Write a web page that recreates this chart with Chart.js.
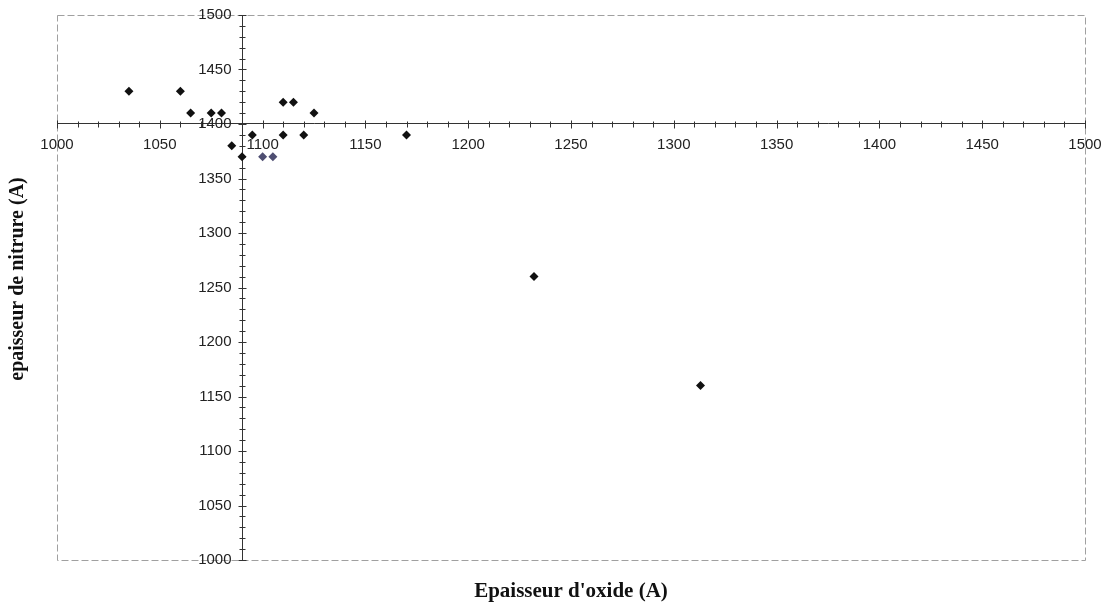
<!DOCTYPE html>
<html>
<head>
<meta charset="utf-8">
<script src="https://cdn.jsdelivr.net/npm/chart.js@4.4.1/dist/chart.umd.min.js"></script>
<style>
  html, body { margin: 0; padding: 0; background: #fff; }
  #wrap { width: 1107px; height: 608px; position: relative; }
</style>
</head>
<body>
<div id="wrap"><canvas id="scatter"></canvas></div>
<script>
// épaisseurs mesurées (A)
const oxide = [1035, 1060, 1065, 1075, 1080, 1085, 1090, 1095, 1110, 1110, 1115, 1120, 1125, 1170, 1232, 1313];
const nitrure = [1430, 1430, 1410, 1410, 1410, 1380, 1370, 1390, 1390, 1420, 1420, 1390, 1410, 1390, 1260, 1160];
const oxide2 = [1100, 1105];
const nitrure2 = [1370, 1370];

const xTicks = [1000, 1050, 1100, 1150, 1200, 1250, 1300, 1350, 1400, 1450, 1500];
const yTicks = [1000, 1050, 1100, 1150, 1200, 1250, 1300, 1350, 1400, 1450, 1500];

const xTitle = "Epaisseur d'oxide (A)";
const yTitle = "epaisseur de nitrure (A)";

const toPoints = (xs, ys) => xs.map((x, i) => ({ x, y: ys[i] }));

const tickFont = { family: "'Liberation Sans', Arial, sans-serif", size: 15 };
const tickFontCss = "15px 'Liberation Sans', Arial, sans-serif";

// cadre pointillé, graduations qui traversent les axes, libellés de l'axe vertical
const decorations = {
  id: "decorations",
  beforeDraw(chart) {
    const { ctx, chartArea: a } = chart;
    ctx.save();
    ctx.strokeStyle = "#a0a0a0";
    ctx.lineWidth = 1;
    ctx.setLineDash([7, 3]);
    ctx.strokeRect(a.left + 0.5, a.top + 0.5, a.right - a.left, a.bottom - a.top);
    ctx.restore();
  },
  beforeDatasetsDraw(chart) {
    const { ctx, scales } = chart;
    const xs = scales.x, ys = scales.y;
    const xLine = Math.round(ys.getPixelForValue(1400)) + 0.5;
    const yLine = Math.round(xs.getPixelForValue(1090)) + 0.5;
    ctx.save();
    ctx.strokeStyle = "#333";
    ctx.lineWidth = 1;
    for (let v = xs.min; v <= xs.max; v += 10) {
      const px = Math.round(xs.getPixelForValue(v)) + 0.5;
      const h = v % 50 === 0 ? 4 : 3;
      ctx.beginPath();
      ctx.moveTo(px, xLine - h);
      ctx.lineTo(px, xLine + h);
      ctx.stroke();
    }
    for (let v = ys.min; v <= ys.max; v += 10) {
      const py = Math.round(ys.getPixelForValue(v)) + 0.5;
      const w = v % 50 === 0 ? 4 : 3;
      ctx.beginPath();
      ctx.moveTo(yLine - w, py);
      ctx.lineTo(yLine + w, py);
      ctx.stroke();
    }
    // libellés de l'axe des nitrures, décalés à gauche de la ligne d'axe
    ctx.fillStyle = "#222";
    ctx.font = tickFontCss;
    ctx.textAlign = "right";
    ctx.textBaseline = "middle";
    ys.ticks.forEach((t) => {
      ctx.fillText(String(t.value), yLine - 11, ys.getPixelForValue(t.value));
    });
    ctx.restore();
  },
  afterDraw(chart) {
    const { ctx } = chart;
    ctx.save();
    ctx.fillStyle = "#111";
    ctx.textAlign = "center";
    ctx.textBaseline = "middle";
    ctx.font = "bold 21px 'Liberation Serif', 'Times New Roman', serif";
    ctx.fillText(xTitle, 571, 592);
    ctx.font = "bold 20px 'Liberation Serif', 'Times New Roman', serif";
    ctx.translate(18, 279);
    ctx.rotate(-Math.PI / 2);
    ctx.fillText(yTitle, 0, 0);
    ctx.restore();
  }
};

const noPad = (scale) => {
  scale.paddingLeft = 0;
  scale.paddingRight = 0;
  scale.paddingTop = 0;
  scale.paddingBottom = 0;
};

new Chart(document.getElementById("scatter"), {
  type: "scatter",
  data: {
    datasets: [
      {
        label: "mesures",
        data: toPoints(oxide, nitrure),
        pointStyle: "rectRot",
        pointRadius: 4.5,
        pointBackgroundColor: "#111",
        pointBorderColor: "#111",
        pointBorderWidth: 0
      },
      {
        label: "mesures 2",
        data: toPoints(oxide2, nitrure2),
        pointStyle: "rectRot",
        pointRadius: 4.5,
        pointBackgroundColor: "#4e4e72",
        pointBorderColor: "#4e4e72",
        pointBorderWidth: 0
      }
    ]
  },
  options: {
    responsive: true,
    maintainAspectRatio: false,
    animation: false,
    layout: { padding: { left: 57, top: 15, right: 22, bottom: 48 } },
    plugins: {
      legend: { display: false },
      tooltip: { enabled: false }
    },
    scales: {
      x: {
        type: "linear",
        position: { y: 1400 },
        min: 1000,
        max: 1500,
        afterFit: (scale) => { scale.height = 0; noPad(scale); },
        afterBuildTicks: (scale) => { scale.ticks = xTicks.map((v) => ({ value: v })); },
        grid: { display: false, drawTicks: false },
        border: { display: true, color: "#333", width: 1 },
        ticks: {
          color: "#222",
          font: tickFont,
          padding: 12,
          autoSkip: false,
          maxRotation: 0,
          callback: (v) => String(v)
        }
      },
      y: {
        type: "linear",
        position: { x: 1090 },
        min: 1000,
        max: 1500,
        afterFit: (scale) => { scale.width = 0; noPad(scale); },
        afterBuildTicks: (scale) => { scale.ticks = yTicks.map((v) => ({ value: v })); },
        grid: { display: false, drawTicks: false },
        border: { display: true, color: "#333", width: 1 },
        ticks: { display: false }
      }
    }
  },
  plugins: [decorations]
});
</script>
</body>
</html>
